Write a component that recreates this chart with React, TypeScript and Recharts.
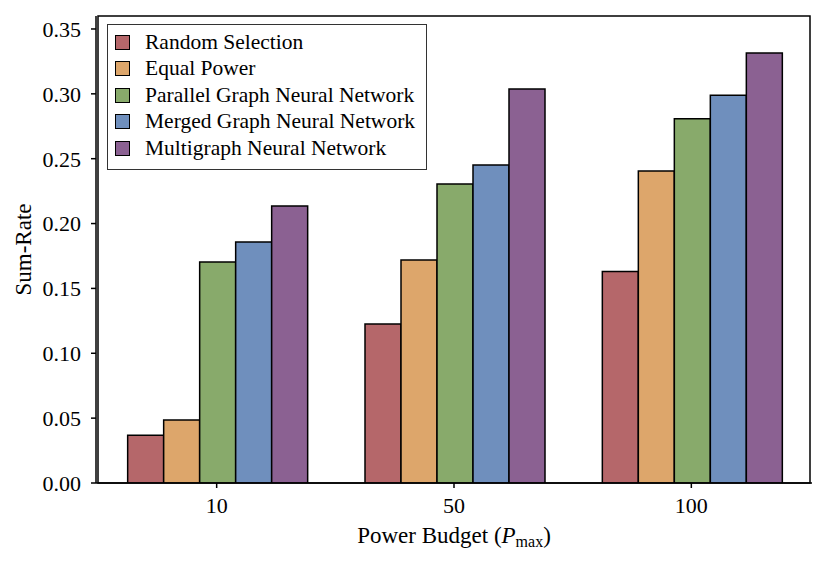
import React from 'react';
import { BarChart, Bar, XAxis, YAxis, Legend, ReferenceArea } from 'recharts';

const categories = ['10', '50', '100'];
const randomSelection = [0.0368, 0.1226, 0.163];
const equalPower = [0.0486, 0.172, 0.2406];
const parallelGNN = [0.1704, 0.2305, 0.2807];
const mergedGNN = [0.1858, 0.2452, 0.299];
const multigraphNN = [0.2136, 0.3038, 0.3315];
const yTicks = [0, 0.05, 0.1, 0.15, 0.2, 0.25, 0.3, 0.35];
const yMax = 0.36;

const seriesNames = [
  'Random Selection',
  'Equal Power',
  'Parallel Graph Neural Network',
  'Merged Graph Neural Network',
  'Multigraph Neural Network',
];
const seriesKeys = ['rs', 'ep', 'pgnn', 'mgnn', 'mnn'];
const seriesColors = ['#b5676a', '#dda66b', '#88aa6b', '#6f8fbd', '#8b6192'];

const data = categories.map((c, i) => ({
  name: c,
  rs: randomSelection[i],
  ep: equalPower[i],
  pgnn: parallelGNN[i],
  mgnn: mergedGNN[i],
  mnn: multigraphNN[i],
}));

const FONT = '"Liberation Serif", "Times New Roman", serif';
const FS = 22;

const LegendBox = () => {
  return (
    <div
      style={{
        border: '1.5px solid #333',
        background: '#fff',
        padding: '4px 11px 7px 7px',
        fontFamily: FONT,
        fontSize: 21.5,
        color: '#000',
        lineHeight: 1,
      }}
    >
      {seriesNames.map((name, i) => (
        <div key={i} style={{ display: 'flex', alignItems: 'center', height: 26.5 }}>
          <span
            style={{
              display: 'inline-block',
              width: 13,
              height: 13,
              background: seriesColors[i],
              border: '1.5px solid #000',
              marginRight: 15,
              flex: 'none',
            }}
          />
          <span style={{ whiteSpace: 'nowrap' }}>{name}</span>
        </div>
      ))}
    </div>
  );
};

const XLabel = (props: any) => {
  const vb = props.viewBox || {};
  const cx = vb.x + vb.width / 2;
  const y = 543;
  return (
    <text x={cx} y={y} textAnchor="middle" fontFamily={FONT} fontSize={23} fill="#000">
      Power Budget (<tspan fontStyle="italic">P</tspan>
      <tspan fontSize={16} dy={4}>max</tspan>
      <tspan dy={-4}>)</tspan>
    </text>
  );
};

const YLabel = (props: any) => {
  const vb = props.viewBox || {};
  const x = 31;
  const cy = vb.y + vb.height / 2;
  return (
    <text
      x={x}
      y={cy}
      textAnchor="middle"
      fontFamily={FONT}
      fontSize={23}
      fill="#000"
      transform={`rotate(-90 ${x} ${cy})`}
    >
      Sum-Rate
    </text>
  );
};

export default function App() {
  const tickStyle = { fontFamily: FONT, fontSize: FS, fill: '#000' };
  return (
    <div style={{ marginLeft: -8, marginTop: -8, width: 830, height: 562, background: '#fff' }}>
      <BarChart
        width={830}
        height={562}
        data={data}
        margin={{ top: 16, right: 18, left: 0, bottom: 0 }}
        barCategoryGap="12.5%"
        barGap={0}
      >
        <XAxis
          dataKey="name"
          height={79}
          padding={{ left: 2, right: 2 }}
          tick={tickStyle}
          tickSize={5}
          tickMargin={9}
          axisLine={{ stroke: '#000', strokeWidth: 1.5 }}
          tickLine={{ stroke: '#000', strokeWidth: 1.5 }}
          label={<XLabel />}
        />
        <YAxis
          width={96}
          domain={[0, yMax]}
          ticks={yTicks}
          allowDataOverflow
          tickFormatter={(v: number) => v.toFixed(2)}
          tick={tickStyle}
          tickSize={5}
          tickMargin={10}
          axisLine={{ stroke: '#000', strokeWidth: 1.5 }}
          tickLine={{ stroke: '#000', strokeWidth: 1.5 }}
          label={<YLabel />}
        />
        <Legend
          layout="vertical"
          align="center"
          verticalAlign="middle"
          wrapperStyle={{ left: 107, top: 24, width: 'auto', height: 'auto' }}
          content={<LegendBox />}
        />
        {seriesKeys.map((k, i) => (
          <Bar
            key={k}
            dataKey={k}
            name={seriesNames[i]}
            fill={seriesColors[i]}
            stroke="#000"
            strokeWidth={1.5}
            isAnimationActive={false}
          />
        ))}
        <ReferenceArea
          y1={0}
          y2={yMax}
          fill="none"
          stroke="#000"
          strokeWidth={1.5}
          ifOverflow="visible"
        />
      </BarChart>
    </div>
  );
}
